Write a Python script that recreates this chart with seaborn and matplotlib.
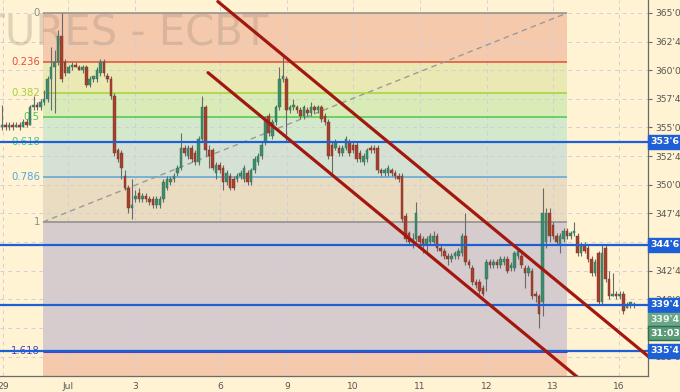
import numpy as np
import matplotlib
matplotlib.use("Agg")
import matplotlib.pyplot as plt
import matplotlib.transforms as mtransforms
import seaborn as sns

# ---------------- data ----------------
opens = [355.0, 355.25, 355.0, 355.25, 355.0, 355.25, 355.0, 355.5, 355.25, 356.75,
         357.0, 356.75, 357.25, 357.5, 359.25, 360.25, 360.75, 363.0, 360.75, 359.75,
         360.25, 360.5, 360.25, 360.0, 360.25, 358.75, 359.25, 359.25, 359.75, 360.75,
         359.5, 359.25, 357.75, 353.0, 352.75, 350.75, 349.75, 348.0, 348.75, 349.25,
         348.75, 349.0, 348.75, 348.75, 348.25, 348.25, 348.75, 349.75, 350.25, 350.5,
         351.0, 351.5, 353.25, 352.5, 353.25, 352.75, 352.0, 354.0, 356.75, 353.0,
         353.0, 351.0, 351.75, 351.5, 350.25, 350.75, 350.5, 350.5, 350.75, 350.5,
         351.0, 350.25, 351.25, 352.0, 352.5, 353.75, 356.0, 354.25, 355.5, 356.75,
         359.25, 359.25, 356.5, 356.75, 356.75, 356.5, 356.0, 356.5, 356.25, 356.75,
         356.5, 356.75, 356.0, 355.5, 353.5, 353.25, 353.25, 352.75, 353.25, 353.75,
         353.5, 353.5, 352.75, 352.0, 352.25, 353.25, 353.25, 353.25, 351.25, 351.0,
         351.0, 351.25, 351.0, 350.75, 350.75, 347.25, 345.75, 345.0, 345.25, 345.5,
         345.25, 344.75, 345.0, 345.0, 345.5, 344.5, 344.25, 343.75, 343.5, 343.75,
         343.75, 344.0, 345.5, 343.25, 342.75, 341.5, 341.5, 341.0, 341.75, 343.25,
         343.0, 343.25, 343.0, 343.25, 343.5, 342.75, 342.75, 343.75, 343.75, 342.75,
         342.25, 342.5, 340.5, 340.25, 339.75, 345.0, 347.5, 346.5, 345.5, 344.75,
         345.25, 346.0, 345.5, 345.75, 345.5, 344.0, 344.75, 344.5, 343.5, 342.25,
         344.0, 339.75, 344.5, 341.75, 340.25, 340.5, 340.25, 340.5, 339.25, 339.5,
         339.5]
highs = [357.0, 355.5, 355.5, 355.5, 355.5, 355.5, 355.75, 355.75, 357.0, 357.75,
         357.25, 357.5, 358.25, 359.5, 362.0, 361.75, 363.5, 365.0, 361.0, 360.5,
         360.75, 360.75, 360.5, 360.5, 360.5, 359.5, 359.5, 360.25, 361.0, 361.0,
         359.75, 359.5, 358.0, 353.25, 353.0, 351.25, 350.0, 350.5, 349.5, 349.75,
         349.25, 349.25, 349.0, 349.0, 349.0, 349.0, 350.5, 350.75, 350.75, 351.0,
         351.75, 354.5, 353.5, 353.5, 353.5, 353.0, 354.25, 357.75, 357.0, 353.5,
         353.25, 352.0, 352.0, 351.75, 351.25, 351.0, 350.75, 351.0, 351.25, 351.75,
         351.25, 351.5, 352.5, 352.75, 353.75, 356.0, 356.25, 355.75, 357.0, 360.25,
         361.25, 359.5, 357.0, 357.5, 357.0, 356.75, 357.0, 356.75, 357.25, 357.0,
         357.0, 357.0, 356.25, 355.75, 353.75, 354.0, 353.5, 353.5, 354.25, 354.0,
         353.75, 353.75, 353.0, 352.75, 353.25, 353.5, 353.5, 353.5, 351.5, 351.5,
         351.75, 351.5, 351.25, 351.0, 351.0, 347.5, 346.0, 345.75, 348.5, 345.75,
         345.5, 345.5, 345.75, 346.0, 345.75, 344.75, 344.5, 344.0, 344.0, 344.25,
         344.5, 345.75, 347.5, 343.5, 343.0, 341.75, 341.75, 341.25, 343.5, 343.5,
         343.5, 343.5, 343.75, 343.75, 343.75, 343.25, 344.25, 344.5, 344.0, 343.0,
         343.0, 342.75, 340.75, 340.5, 349.75, 348.0, 348.0, 346.75, 345.75, 345.75,
         346.25, 346.25, 346.0, 346.75, 345.75, 345.0, 345.0, 344.75, 343.75, 343.5,
         344.25, 344.75, 344.75, 342.5, 342.25, 340.75, 340.75, 340.75, 339.75, 339.75,
         339.75]
lows = [354.75, 354.75, 354.75, 354.75, 355.0, 354.75, 355.0, 355.0, 355.25, 356.5,
        356.5, 356.5, 357.0, 357.25, 356.5, 356.25, 360.5, 359.0, 359.5, 359.75,
        360.0, 360.25, 360.0, 359.75, 358.5, 358.5, 359.0, 359.0, 359.5, 359.5,
        359.0, 357.5, 352.5, 352.0, 350.5, 349.5, 347.5, 347.0, 348.5, 348.5,
        348.5, 348.5, 348.25, 348.0, 348.0, 348.0, 348.5, 349.5, 350.0, 350.25,
        350.75, 351.25, 352.5, 352.25, 352.0, 351.75, 351.75, 353.75, 352.5, 351.5,
        351.25, 350.5, 351.0, 349.5, 350.0, 349.5, 349.5, 350.25, 350.5, 350.25,
        350.0, 350.0, 351.0, 351.75, 352.25, 353.5, 354.25, 354.0, 355.25, 356.5,
        359.0, 353.75, 356.25, 356.5, 356.25, 355.75, 355.75, 356.0, 356.0, 356.25,
        356.25, 355.5, 355.25, 352.25, 350.75, 353.0, 352.5, 352.5, 353.0, 352.5,
        352.75, 352.0, 352.0, 351.75, 352.0, 352.75, 352.75, 351.0, 350.75, 350.75,
        350.75, 350.75, 350.5, 350.25, 346.75, 345.0, 344.75, 344.5, 345.0, 344.5,
        344.0, 344.25, 344.75, 344.75, 344.25, 343.75, 343.5, 343.0, 343.25, 343.5,
        343.5, 343.75, 343.0, 342.75, 341.25, 341.0, 340.5, 340.25, 340.75, 342.75,
        342.75, 342.75, 342.75, 343.0, 342.25, 342.5, 342.5, 343.5, 342.75, 341.0,
        342.0, 340.0, 339.75, 337.5, 338.5, 344.5, 345.0, 345.25, 344.75, 344.0,
        345.0, 345.25, 345.25, 345.5, 343.75, 343.75, 344.0, 343.25, 342.0, 342.0,
        339.5, 339.5, 341.5, 340.0, 340.25, 340.0, 340.0, 338.75, 339.25, 339.25,
        339.25]
closes = [355.25, 355.0, 355.25, 355.0, 355.25, 355.0, 355.5, 355.25, 356.75, 357.0,
          356.75, 357.25, 357.5, 359.25, 360.25, 360.75, 363.0, 359.25, 359.75, 360.25,
          360.5, 360.25, 360.0, 360.25, 358.75, 359.25, 359.5, 360.0, 360.75, 359.75,
          359.25, 357.75, 352.75, 352.25, 351.5, 349.75, 348.0, 348.25, 349.0, 348.75,
          349.0, 348.75, 348.5, 348.25, 348.75, 348.75, 350.25, 350.5, 350.5, 350.75,
          351.5, 353.25, 352.75, 353.25, 352.25, 352.0, 354.0, 356.75, 353.0, 352.5,
          351.5, 351.75, 351.25, 350.25, 351.0, 349.75, 349.75, 350.75, 351.0, 351.5,
          350.25, 351.25, 352.25, 352.5, 353.5, 355.75, 354.5, 355.5, 356.75, 359.25,
          359.5, 356.5, 356.75, 357.0, 356.5, 356.0, 356.75, 356.25, 356.75, 356.5,
          356.75, 355.75, 355.5, 352.5, 352.5, 353.75, 352.75, 353.25, 354.0, 352.75,
          353.0, 352.25, 352.25, 352.5, 353.0, 353.0, 353.0, 351.25, 351.0, 351.25,
          351.5, 351.0, 350.75, 350.5, 347.0, 345.25, 345.0, 345.25, 347.5, 345.0,
          344.75, 345.25, 345.5, 345.5, 344.5, 344.25, 343.75, 343.5, 343.75, 344.0,
          344.25, 345.5, 343.25, 343.0, 341.5, 341.25, 340.75, 340.5, 343.25, 343.0,
          343.25, 343.0, 343.5, 343.5, 342.5, 343.0, 344.0, 344.25, 343.0, 342.25,
          342.75, 340.25, 340.25, 338.75, 347.5, 347.5, 345.5, 345.5, 345.0, 345.5,
          346.0, 345.5, 345.75, 346.0, 344.0, 344.75, 344.25, 343.5, 342.25, 343.25,
          339.75, 344.0, 341.75, 340.25, 340.5, 340.25, 340.5, 339.0, 339.5, 339.75,
          339.5]

tick_pos = [0.2, 18.8, 37.9, 62.1, 81.2, 100.0, 119.1, 138.2, 157.0, 175.8]
tick_labels = ['29', 'Jul', '3', '6', '9', '10', '11', '12', '13', '16']

fib_high = 365.0
fib_low = 346.75
fib_start, fib_end = 11.7, 161.0
fib_ratios = [0, 0.236, 0.382, 0.5, 0.618, 0.786, 1, 1.618, 2.618]
fib_labels = ['0', '0.236', '0.382', '0.5', '0.618', '0.786', '1', '1.618']
fib_line_colors = ['#8c8c8c', '#e0503c', '#a6d13a', '#4ec84e', '#3cc8a0', '#58a6dc',
                   '#8c8c8c', '#4646c8']
fib_band_colors = ['#f5c9ab', '#ebe9b3', '#d9ecb8', '#d4e9cb', '#d5e2d3', '#e9dcc0',
                   '#d6cccd', '#f5c9ab']

level_prices = [353.75, 344.75, 339.5, 335.5]
level_labels = ["353'6", "344'6", "339'4", "335'4"]

last_price = 338.2
last_label = "339'4"
timer_price = 337.05
timer_label = "31:03"

# y tick values whose labels are fully covered by price boxes in the reference
hidden_ytick_values = [345.0, 337.5]

upper_x = [61.5, 184.5]
upper_y = [366.0, 334.92]
lower_x = [58.7, 165.0]
lower_y = [359.79, 332.93]

BG = '#fff3d3'

# ---------------- figure ----------------
sns.set_style("white")
plt.rcParams['font.family'] = ['DejaVu Sans']

fig = plt.figure(figsize=(6.8, 3.92), dpi=100)
fig.patch.set_facecolor(BG)
ax = fig.add_axes([0, 16 / 392, 648 / 680, 376 / 392])
ax.set_facecolor(BG)
ax.set_xlim(-0.57, 184.05)
ax.set_ylim(333.297, 366.135)

# fib bands & levels
fib_prices = [fib_high - r * (fib_high - fib_low) for r in fib_ratios]
for k in range(len(fib_band_colors)):
    ax.fill_between([fib_start, fib_end], fib_prices[k + 1], fib_prices[k],
                    color=fib_band_colors[k], lw=0, zorder=0.5)
for k, lab in enumerate(fib_labels):
    ax.hlines(fib_prices[k], fib_start, fib_end, color=fib_line_colors[k],
              lw=2.2 if lab == '1.618' else 1.1, zorder=2)
    ax.text(10.8, fib_prices[k], lab, ha='right', va='center', fontsize=7.3,
            color=fib_line_colors[k], zorder=2.5)

# trend line of fib
sns.lineplot(x=[fib_start, fib_end], y=[fib_low, fib_high], ax=ax, color='#9a9a9a',
             lw=1.0, linestyle=(0, (4, 3)), zorder=2.2)

# grid
ax.set_axisbelow('line')
ax.grid(True, ls=(0, (4, 4)), color='#cfcfdc', lw=0.7)

# watermark
ax.text(268 / 648, 1 - 45 / 376, 'FUTURES - ECBT', transform=ax.transAxes,
        ha='right', va='baseline', fontsize=30, color='#9a8878', alpha=0.3, zorder=1.8)

# candles
x = np.arange(len(closes))
o = np.array(opens); c = np.array(closes); h = np.array(highs); l = np.array(lows)
up = c >= o
ax.vlines(x, l, h, color='#6a6a6a', lw=0.8, zorder=3)
bottoms = np.minimum(o, c)
heights = np.maximum(np.abs(c - o), 0.08)
ax.bar(x, heights, bottom=bottoms, width=0.72,
       color=np.where(up, '#3e8c6c', '#a4402e'),
       edgecolor=np.where(up, '#2f6f55', '#7e2e20'), lw=0.3, zorder=3.5)

# horizontal levels
for p in level_prices:
    ax.axhline(p, color='#1d5fd4', lw=1.6, zorder=4)

# channel
sns.lineplot(x=upper_x, y=upper_y, ax=ax, color='#a3180e', lw=2.3, zorder=5)
sns.lineplot(x=lower_x, y=lower_y, ax=ax, color='#a3180e', lw=2.3, zorder=5)

# axes style
for s in ['left', 'top']:
    ax.spines[s].set_visible(False)
for s in ['right', 'bottom']:
    ax.spines[s].set_color('#6a6a6a')
    ax.spines[s].set_linewidth(0.9)

yt = np.arange(335.0, 365.01, 2.5)
ax.yaxis.tick_right()
ax.set_yticks(yt)
ax.set_yticklabels(['' if any(abs(v - hv) < 1e-6 for hv in hidden_ytick_values)
                    else f"{int(v)}'{int(round((v - int(v)) * 8))}" for v in yt])
ax.set_xticks(tick_pos)
ax.set_xticklabels(tick_labels)
ax.tick_params(axis='y', direction='out', length=3, pad=2, labelsize=6.6,
               labelcolor='#555555', color='#6a6a6a', right=True, left=False)
ax.tick_params(axis='x', direction='out', length=3, pad=1.5, labelsize=6.6,
               labelcolor='#555555', color='#6a6a6a')
ax.set_xlabel('')
ax.set_ylabel('')

# price boxes
trans = mtransforms.blended_transform_factory(ax.transAxes, ax.transData)
for p, lab in zip(level_prices, level_labels):
    ax.text(1.004, p, lab, transform=trans, ha='left', va='center', fontsize=6.8,
            fontweight='bold', color='white', clip_on=False, zorder=10,
            bbox=dict(boxstyle='square,pad=0.28', fc='#1d5fd4', ec='#1d5fd4'))
ax.text(1.004, last_price, last_label, transform=trans, ha='left', va='center',
        fontsize=6.8, fontweight='bold', color='#eef5ee', clip_on=False, zorder=10,
        bbox=dict(boxstyle='square,pad=0.28', fc='#6aa688', ec='#6aa688'))
ax.text(1.004, timer_price, timer_label, transform=trans, ha='left', va='center',
        fontsize=6.8, fontweight='bold', color='white', clip_on=False, zorder=10,
        bbox=dict(boxstyle='square,pad=0.28', fc='#5a9c78', ec='#2f6d4e'))

fig.savefig('out.png', dpi=100, facecolor=BG)
